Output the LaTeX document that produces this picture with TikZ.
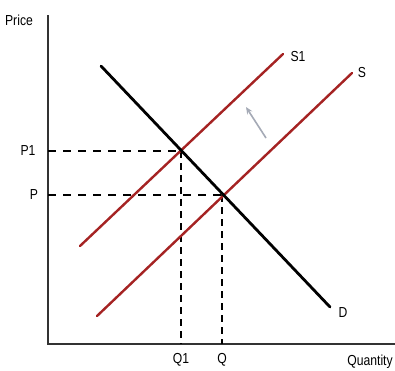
\documentclass[tikz,border=0pt]{standalone}
\usepackage{fontspec}
\setmainfont{Liberation Sans}
\usetikzlibrary{arrows.meta}
\definecolor{supred}{RGB}{165,35,35}
\definecolor{shiftgray}{RGB}{165,170,182}
\tikzset{
  lbl/.style={font=\fontsize{14.5}{16}\selectfont, inner sep=0pt, xscale=0.84},
  axisline/.style={line width=1.4pt, black!80},
  demand/.style={line width=2.8pt, black, line cap=round},
  supply/.style={line width=2.4pt, supred, line cap=round},
  guide/.style={line width=2.7pt, black, dash pattern=on 8pt off 7pt},
  vguide/.style={line width=2.1pt, black, dash pattern=on 7pt off 5pt},
  shiftarrow/.style={line width=1.6pt, shiftgray, -{Stealth[length=7pt,width=6pt]}}
}
\begin{document}
\begin{tikzpicture}[x=1pt,y=-1pt]
\useasboundingbox[fill=white] (0,0) rectangle (395,370);
% axes
\coordinate (ytop) at (48,15);
\coordinate (orig) at (48,344);
\coordinate (xend) at (395,344);
\draw[axisline] (ytop) -- (orig) -- (xend);
% points
\coordinate (E1) at (181,151);
\coordinate (E) at (222,195);
\coordinate (P1a) at (48,151);
\coordinate (Pa) at (48,195);
\coordinate (Q1a) at (181,344);
\coordinate (Qa) at (222,344);
% dashed guides
\draw[guide] (P1a) -- (E1);
\draw[guide] (Pa) -- (E);
\draw[vguide] (E1) -- (Q1a);
\draw[vguide] (E) -- (Qa);
% curves
\coordinate (D0) at (101,66);
\coordinate (D1) at (330,307);
\coordinate (S10) at (80,246);
\coordinate (S11) at (283,54);
\coordinate (S0) at (97,316);
\coordinate (S1e) at (352,73);
\draw[supply] (S10) -- (S11);
\draw[supply] (S0) -- (S1e);
\draw[demand] (D0) -- (D1);
% shift arrow
\coordinate (arrT) at (266,138);
\coordinate (arrH) at (246,107);
\draw[shiftarrow] (arrT) -- (arrH);
% labels
\node[lbl] (price) at (19,20) {Price};
\node[lbl] (quantity) at (370,362) {Quantity};
\node[lbl] (lP1) at (28,151) {P1};
\node[lbl] (lP) at (34,195) {P};
\node[lbl] (lQ1) at (181,360) {Q1};
\node[lbl] (lQ) at (222,360) {Q};
\node[lbl] (lS1) at (298,57) {S1};
\node[lbl] (lS) at (362,73) {S};
\node[lbl] (lD) at (343,313) {D};
\end{tikzpicture}
\end{document}
